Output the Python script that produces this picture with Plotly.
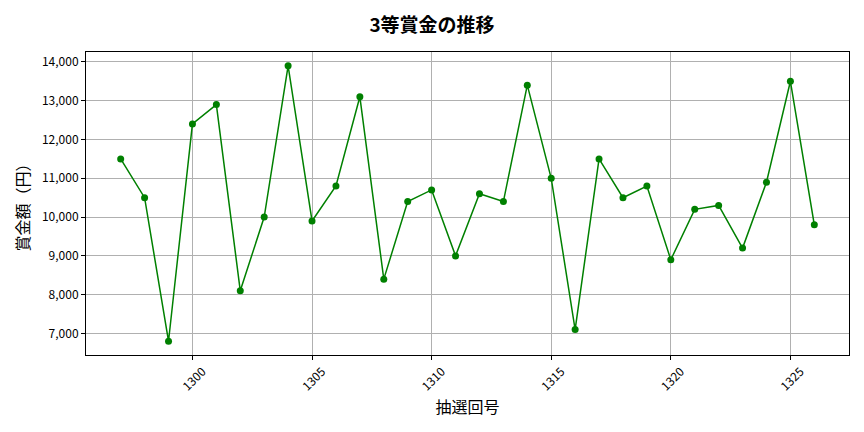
import plotly.graph_objects as go

FONT = 'Noto Sans CJK JP'
GREEN = '#008000'
GRID = '#b0b0b0'

draws = list(range(1297, 1327))
prizes = [11500, 10500, 6800, 12400, 12900, 8100, 10000, 13900, 9900, 10800,
          13100, 8400, 10400, 10700, 9000, 10600, 10400, 13400, 11000, 7100,
          11500, 10500, 10800, 8900, 10200, 10300, 9200, 10900, 13500, 9800]
x_ticks = [1300, 1305, 1310, 1315, 1320, 1325]
y_ticks = [7000, 8000, 9000, 10000, 11000, 12000, 13000, 14000]

fig = go.Figure()
fig.add_trace(go.Scatter(
    x=draws,
    y=prizes,
    mode='lines+markers',
    line=dict(color=GREEN, width=1.5),
    marker=dict(color=GREEN, size=7),
    showlegend=False
))

fig.update_layout(
    width=864, height=432,
    title=dict(text='<b>3等賞金の推移</b>', x=0.5, xanchor='center', y=0.942, yanchor='middle',
               font=dict(family=FONT, size=19, color='black')),
    paper_bgcolor='white',
    plot_bgcolor='white',
    font=dict(family=FONT, color='black', size=12),
    margin=dict(l=86, r=15, t=52, b=77, autoexpand=False)
)
pad_x = (draws[-1] - draws[0]) * 0.05
fig.update_xaxes(
    range=[draws[0] - pad_x, draws[-1] + pad_x],
    tickvals=x_ticks,
    tickangle=-45,
    ticklabelshift=10,
    tickfont=dict(size=12),
    ticks='outside', ticklen=4, tickcolor='black',
    showline=True, linecolor='black', linewidth=1, mirror=True,
    showgrid=True, gridcolor=GRID, gridwidth=1, zeroline=False,
    automargin=False,
    title=dict(text='抽選回号', font=dict(size=16), standoff=8)
)
pad_y = (max(prizes) - min(prizes)) * 0.05
fig.update_yaxes(
    range=[min(prizes) - pad_y, max(prizes) + pad_y],
    tickvals=y_ticks,
    tickformat=',d',
    tickfont=dict(size=12),
    ticks='outside', ticklen=4, tickcolor='black',
    showline=True, linecolor='black', linewidth=1, mirror=True,
    showgrid=True, gridcolor=GRID, gridwidth=1, zeroline=False,
    automargin=False,
    title=dict(text='賞金額（円）', font=dict(size=16), standoff=8)
)

# drop the default page margin so the figure sits at the window's corner
fig.write_html('out.html', config={'displayModeBar': False},
               post_script="document.body.style.margin='0';")
